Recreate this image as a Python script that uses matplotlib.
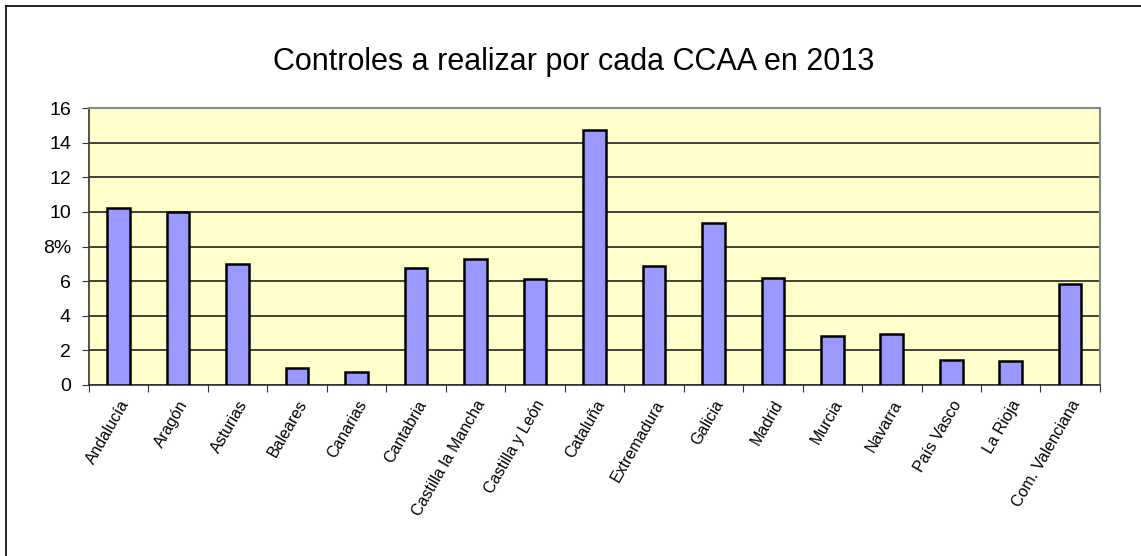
import matplotlib.pyplot as plt
from matplotlib.lines import Line2D

plt.rcParams['font.family'] = ['Liberation Sans', 'DejaVu Sans']

regiones = ["Andalucía", "Aragón", "Asturias", "Baleares", "Canarias", "Cantabria",
            "Castilla la Mancha", "Castilla y León", "Cataluña", "Extremadura",
            "Galicia", "Madrid", "Murcia", "Navarra", "País Vasco", "La Rioja",
            "Com. Valenciana"]
controles = [10.2, 10.0, 7.0, 1.0, 0.75, 6.75, 7.3, 6.15, 14.75, 6.85,
             9.35, 6.2, 2.85, 2.95, 1.45, 1.4, 5.85]
yticks = [0, 2, 4, 6, 8, 10, 12, 14, 16]
# the "%" unit sits on the 8 label in the original
ylabels = ["0", "2", "4", "6", "8%", "10", "12", "14", "16"]

fig = plt.figure(figsize=(11.41, 5.56), dpi=100)
ax = fig.add_axes([0.078, 0.3076, 0.886, 0.498])
ax.set_facecolor('#FFFFCC')

x = list(range(len(regiones)))
ax.bar(x, controles, width=0.38, color='#9999FF', edgecolor='black', linewidth=1.8, zorder=3)

ax.set_xlim(-0.5, len(regiones) - 0.5)
ax.set_ylim(0, 16)
ax.set_yticks(yticks)
ax.set_yticklabels(ylabels, fontsize=14)
ax.yaxis.grid(True, color='#222222', linewidth=1.2, zorder=1)
ax.set_axisbelow(True)

# ticks on category boundaries, labels on category centres
ax.set_xticks([i - 0.5 for i in x] + [len(regiones) - 0.5])
ax.set_xticklabels([''] * (len(regiones) + 1))
ax.set_xticks(x, minor=True)
ax.set_xticklabels(regiones, minor=True, rotation=60, ha='right',
                   rotation_mode='anchor', fontsize=11.5)
ax.tick_params(axis='x', which='minor', length=0, pad=9)
ax.tick_params(axis='x', which='major', length=5, color='#333333')
ax.tick_params(axis='y', length=5, color='#333333', pad=8)

for s in ['left', 'bottom']:
    ax.spines[s].set_color('#333333')
    ax.spines[s].set_linewidth(1.2)
for s in ['top', 'right']:
    ax.spines[s].set_color('#888888')
    ax.spines[s].set_linewidth(1.5)

fig.text(0.503, 0.888, 'Controles a realizar por cada CCAA en 2013',
         fontsize=22, ha='center', va='center')

fig.add_artist(Line2D([0.005, 0.005], [0.0, 0.99], color='black', linewidth=1.2))
fig.add_artist(Line2D([0.005, 1.0], [0.99, 0.99], color='black', linewidth=1.2))

fig.savefig('out.png', dpi=100)
